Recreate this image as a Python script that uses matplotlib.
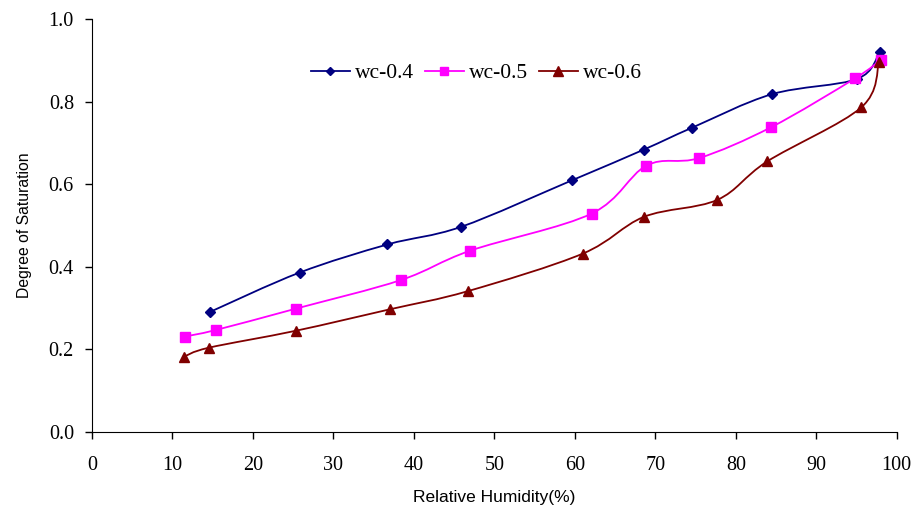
import numpy as np
import matplotlib
matplotlib.use("Agg")
import matplotlib.pyplot as plt
from matplotlib.path import Path
from matplotlib.patches import PathPatch
from matplotlib.lines import Line2D

# relative humidity (%) and degree of saturation for each w/c ratio
rh_04 = [14.7, 25.8, 36.7, 45.9, 59.6, 68.6, 74.6, 84.5, 95.1, 97.9]
sat_04 = [0.291, 0.386, 0.454, 0.497, 0.609, 0.684, 0.737, 0.818, 0.855, 0.921]

rh_05 = [11.5, 15.4, 25.4, 38.4, 47.0, 62.1, 68.9, 75.4, 84.4, 94.8, 98.0]
sat_05 = [0.231, 0.247, 0.299, 0.368, 0.439, 0.529, 0.645, 0.663, 0.738, 0.856, 0.901]

rh_06 = [11.4, 14.5, 25.3, 37.0, 46.7, 61.0, 68.6, 77.7, 83.9, 95.6, 97.8]
sat_06 = [0.182, 0.204, 0.245, 0.297, 0.341, 0.432, 0.521, 0.562, 0.655, 0.786, 0.895]

labels = ["wc-0.4", "wc-0.5", "wc-0.6"]
colors = ["#000080", "#FF00FF", "#800000"]
markers = ["D", "s", "^"]
msizes = [5.5, 6.5, 7.5]

x_ticks = np.arange(0, 101, 10)
y_ticks = np.arange(0, 1.01, 0.2)


def smooth_path(x, y):
    # Excel-like smoothed line: cubic bezier segments (Catmull-Rom style)
    p = np.column_stack([x, y])
    n = len(p)
    verts = [p[0]]
    codes = [Path.MOVETO]
    for i in range(n - 1):
        p0 = p[i - 1] if i > 0 else p[i]
        p3 = p[i + 2] if i + 2 < n else p[i + 1]
        c1 = p[i] + (p[i + 1] - p0) / 6.0
        c2 = p[i + 1] - (p3 - p[i]) / 6.0
        verts += [c1, c2, p[i + 1]]
        codes += [Path.CURVE4] * 3
    return Path(verts, codes)


fig = plt.figure(figsize=(9.15, 5.08), dpi=100)
ax = fig.add_axes([0.1005, 0.1496, 0.8795, 0.813])

series = [(rh_04, sat_04), (rh_05, sat_05), (rh_06, sat_06)]
handles = []
for (x, y), lab, c, m, ms in zip(series, labels, colors, markers, msizes):
    ax.add_patch(PathPatch(smooth_path(x, y), facecolor="none", edgecolor=c,
                           linewidth=1.3, zorder=2))
    ax.plot(x, y, linestyle="none", marker=m, markersize=ms, color=c, zorder=3)
    handles.append(Line2D([], [], color=c, marker=m, markersize=ms - 1,
                          linewidth=1.3, label=lab))

ax.set_xlim(0, 100)
ax.set_ylim(0, 1.0)
ax.set_xticks(x_ticks)
ax.set_yticks(y_ticks)
ax.set_yticklabels(["%.1f" % v for v in y_ticks])

for s in ["top", "right"]:
    ax.spines[s].set_visible(False)
ax.tick_params(direction="out", length=5, width=1, labelsize=14.5)
ax.tick_params(axis="x", pad=12)
ax.tick_params(axis="y", pad=8)
for t in ax.get_xticklabels() + ax.get_yticklabels():
    t.set_fontfamily("Liberation Serif")

ax.set_xlabel("Relative Humidity(%)", fontfamily="Liberation Sans",
              fontsize=12.5, labelpad=11)
ax.set_ylabel("Degree of Saturation", fontfamily="Liberation Sans",
              fontsize=11.3, labelpad=12)

ax.legend(handles=handles, loc="center", bbox_to_anchor=(0.478, 0.869),
          ncol=3, frameon=False, handlelength=1.8, handletextpad=0.25,
          columnspacing=0.5, prop={"family": "Liberation Serif", "size": 15.5})

fig.savefig("out.png", dpi=100)
